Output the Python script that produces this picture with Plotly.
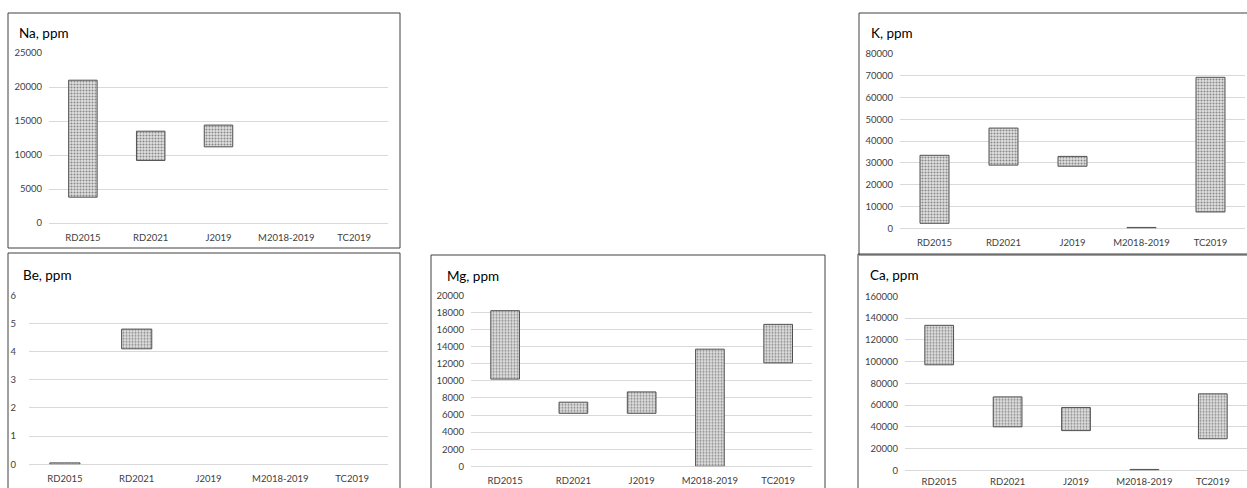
import plotly.graph_objects as go

W, H = 1247, 488

categories = ["RD2015", "RD2021", "J2019", "M2018-2019", "TC2019"]

na_low = [3800, 9200, 11200, None, None]
na_high = [21000, 13500, 14400, None, None]

k_low = [2300, 29000, 28500, 0, 7500]
k_high = [33500, 46000, 33000, 400, 69300]

be_low = [0, 4.1, None, None, None]
be_high = [0.05, 4.8, None, None, None]

mg_low = [10200, 6200, 6200, 0, 12100]
mg_high = [18200, 7500, 8700, 13700, 16600]

ca_low = [97000, 40000, 36500, 0, 29000]
ca_high = [133300, 67500, 57800, 800, 70300]

panels = [
    dict(title="Na, ppm", low=na_low, high=na_high, ymax=25000, dtick=5000,
         area=(49, 388, 53, 223), tpos=(17, 33), frame=(8, 400, 13, 248), so=6, xso=7),
    dict(title="K, ppm", low=k_low, high=k_high, ymax=80000, dtick=10000,
         area=(900, 1245, 54, 228.3), tpos=(869, 33), frame=(859, 1262, 13, 255), so=6, xso=7),
    dict(title="Be, ppm", low=be_low, high=be_high, ymax=6, dtick=1,
         area=(29, 388, 295.3, 464.3), tpos=(21, 275), frame=(8, 400, 253, 500), so=12, xso=7),
    dict(title="Mg, ppm", low=mg_low, high=mg_high, ymax=20000, dtick=2000,
         area=(471, 812.3, 295.3, 466.3), tpos=(445, 276), frame=(431, 825, 255, 500), so=6, xso=7),
    dict(title="Ca, ppm", low=ca_low, high=ca_high, ymax=160000, dtick=20000,
         area=(905, 1247, 296.3, 470.3), tpos=(868, 275), frame=(858, 1262, 254, 500), so=6, xso=4),
]

FONT = "Lato, Open Sans, sans-serif"
fig = go.Figure()
shapes = []
annotations = []

for i, p in enumerate(panels):
    n = "" if i == 0 else str(i + 1)
    xa = "x" + n
    ya = "y" + n
    lengths = [None if (h is None or l is None) else h - l for l, h in zip(p["low"], p["high"])]
    fig.add_trace(go.Bar(
        x=categories, y=lengths, base=p["low"],
        xaxis=xa, yaxis=ya, width=0.42,
        marker=dict(
            color="#ffffff",
            line=dict(color="#505050", width=1),
            pattern=dict(shape=".", fgcolor="#303030", bgcolor="#e2e2e2",
                         size=3, solidity=0.4),
        ),
        showlegend=False, hoverinfo="skip",
    ))
    x0, x1, y0, y1 = p["area"]
    fig.update_layout(**{
        ("xaxis" + n): dict(
            domain=[x0 / W, x1 / W], anchor=ya, type="category",
            range=[-0.5, 4.5], showgrid=False, showline=False, zeroline=False,
            ticks="", tickfont=dict(family=FONT, size=9.5, color="#404040"),
            ticklabelstandoff=p["xso"], fixedrange=True, automargin=False,
        ),
        ("yaxis" + n): dict(
            domain=[1 - y1 / H, 1 - y0 / H], anchor=xa,
            range=[0, p["ymax"]], dtick=p["dtick"], tick0=0, tickformat="d",
            showgrid=True, gridcolor="#d9d9d9", gridwidth=1,
            zeroline=True, zerolinecolor="#d9d9d9", zerolinewidth=1,
            showline=False, ticks="",
            tickfont=dict(family=FONT, size=9.5, color="#404040"),
            ticklabelstandoff=p["so"], fixedrange=True, automargin=False,
        ),
    })
    fx0, fx1, fy0, fy1 = p["frame"]
    shapes.append(dict(type="rect", xref="paper", yref="paper",
                       x0=fx0 / W, x1=fx1 / W, y0=1 - fy1 / H, y1=1 - fy0 / H,
                       line=dict(color="#404040", width=1), fillcolor="rgba(0,0,0,0)",
                       layer="below"))
    tx, ty = p["tpos"]
    annotations.append(dict(text=p["title"], xref="paper", yref="paper",
                            x=tx / W, y=1 - ty / H, xanchor="left", yanchor="middle",
                            showarrow=False,
                            font=dict(family=FONT, size=13.5, color="#000000")))

fig.update_layout(
    width=W, height=H, margin=dict(l=0, r=0, t=0, b=0, pad=0, autoexpand=False),
    paper_bgcolor="white", plot_bgcolor="rgba(0,0,0,0)",
    shapes=shapes, annotations=annotations,
)

fig.write_html("out.html", config={"displayModeBar": False},
               post_script="document.body.style.margin='0px';document.body.style.overflow='hidden';")
